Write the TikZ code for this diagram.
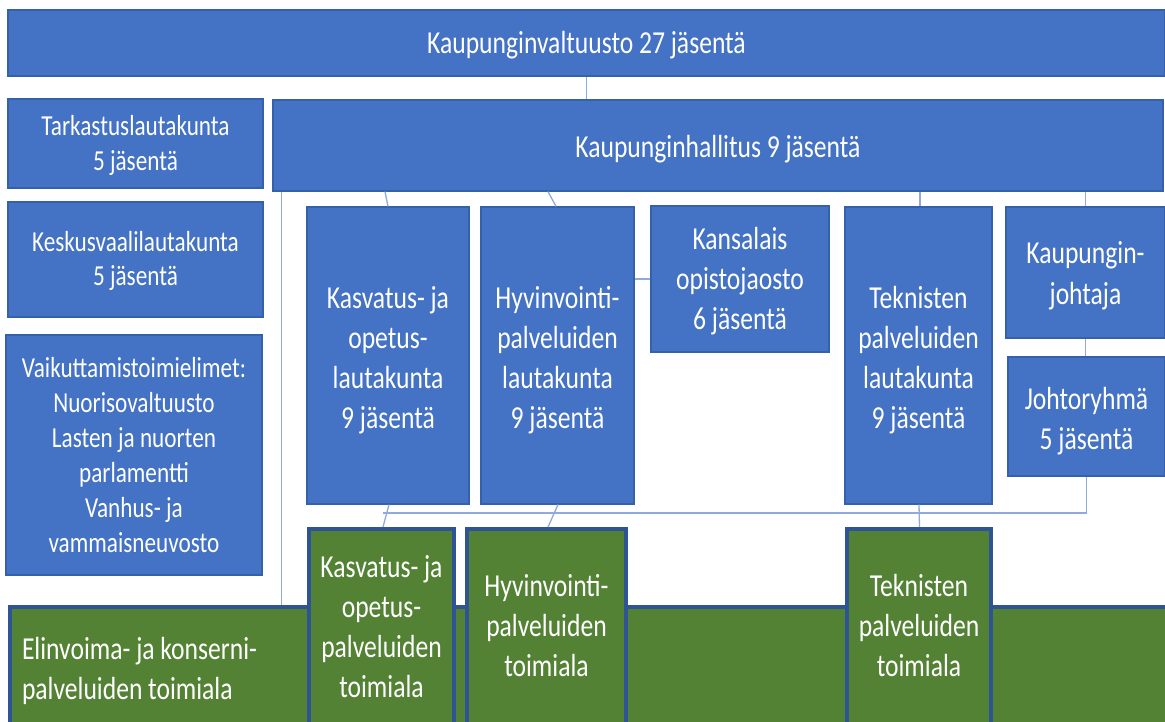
\documentclass[tikz,border=0pt]{standalone}
\usepackage{fontspec}
\setmainfont{Carlito}[FakeStretch=0.8]
\definecolor{cblue}{HTML}{4472C4}
\definecolor{cblueb}{HTML}{3560AA}
\definecolor{cgreen}{HTML}{548235}
\definecolor{cgreenb}{HTML}{2F5496}
\definecolor{cline}{HTML}{8FAADC}
\newcommand{\txl}[2][5pt]{\raisebox{-#1}[\height][\depth]{\begin{tabular}{@{}c@{}}#2\end{tabular}}}
\tikzset{
  bb/.style={fill=cblue, draw=cblueb, line width=1.2pt, text=white, align=center, inner sep=0pt, font=\fontsize{32}{40}\selectfont},
  lb/.style={bb, font=\fontsize{29}{35}\selectfont},
  gb/.style={fill=cgreen, draw=cgreenb, line width=4pt, text=white, align=center, inner sep=0pt, font=\fontsize{32}{40}\selectfont},
  conn/.style={draw=cline, line width=1.3pt},
}
\begin{document}
\begin{tikzpicture}[x=1pt,y=-1pt]
\useasboundingbox (0,0) rectangle (1165,722);
\clip (0,0) rectangle (1165,722);
\fill[white] (0,0) rectangle (1165,722);
% top level
\node[bb, minimum width=1157pt, minimum height=66pt] (kv) at (586.5,43) {\txl[3pt]{Kaupunginvaltuusto 27 jäsentä}};
\node[bb, minimum width=890pt, minimum height=91pt] (kh) at (718,145.5) {\txl[4pt]{Kaupunginhallitus 9 jäsentä}};
% left column
\node[lb, minimum width=255pt, minimum height=89pt] (tark) at (135.5,143.5) {\txl[2.5pt]{Tarkastuslautakunta\\5 jäsentä}};
\node[lb, minimum width=255pt, minimum height=115pt] (kesk) at (135.5,259.5) {\txl[2pt]{Keskusvaalilautakunta\\5 jäsentä}};
\node[lb, minimum width=256pt, minimum height=240pt] (vaik) at (134,455) {Vaikuttamistoimielimet:\\Nuorisovaltuusto\\Lasten ja nuorten\\parlamentti\\Vanhus- ja\\vammaisneuvosto};
% boards
\node[bb, minimum width=162pt, minimum height=297pt] (kol) at (388,355.5) {\txl{Kasvatus- ja\\opetus-\\lautakunta\\9 jäsentä}};
\node[bb, minimum width=153pt, minimum height=297pt] (hpl) at (557.5,355.5) {\txl{Hyvinvointi-\\palveluiden\\lautakunta\\9 jäsentä}};
\node[bb, minimum width=178pt, minimum height=146pt] (kop) at (740,279) {\txl[3pt]{Kansalais\\opistojaosto\\6 jäsentä}};
\node[bb, minimum width=147pt, minimum height=297pt] (tpl) at (918.5,355.5) {\txl{Teknisten\\palveluiden\\lautakunta\\9 jäsentä}};
\node[bb, minimum width=159pt, minimum height=131pt] (kj) at (1085.5,272.5) {\txl[3.5pt]{Kaupungin-\\johtaja}};
\node[bb, minimum width=157pt, minimum height=119pt] (jr) at (1086.5,416.5) {\txl{Johtoryhmä\\5 jäsentä}};
% green
\node[gb, minimum width=1165pt, minimum height=128pt] (elin) at (592.5,671) {\makebox[1141pt][l]{\begin{tabular}{@{}l@{}}Elinvoima- ja konserni-\\palveluiden toimiala\end{tabular}}};
\node[gb, minimum width=145pt, minimum height=206pt] (kt) at (381.5,632) {\txl[-3pt]{Kasvatus- ja\\opetus-\\palveluiden\\toimiala}};
\node[gb, minimum width=159pt, minimum height=206pt] (ht) at (546.5,632) {\txl[-4pt]{Hyvinvointi-\\palveluiden\\toimiala}};
\node[gb, minimum width=144pt, minimum height=206pt] (tt) at (919,632) {\txl[-4pt]{Teknisten\\palveluiden\\toimiala}};
% connectors
\coordinate (busy) at (0,513);
\draw[conn] (kv.south) -- (kh.north -| kv.south);
\draw[conn] ([xshift=9pt]kh.south west) -- ([xshift=9pt]kh.south west |- elin.north);
\draw[conn] ([xshift=-3pt]kol.north |- kh.south) -- (kol.north);
\draw[conn] ([xshift=-9.5pt]hpl.north |- kh.south) -- ([xshift=-1.5pt]hpl.north);
\draw[conn] (hpl.east |- kop.west) -- (kop.west);
\draw[conn] ([xshift=1.5pt]tpl.north |- kh.south) -- ([xshift=1.5pt]tpl.north);
\draw[conn] (kj.north |- kh.south) -- (kj.north);
\draw[conn] (kj.south) -- (kj.south |- jr.north);
\draw[conn] (jr.south) -- (jr.south |- busy) -- ([xshift=-5pt]kol.south |- busy);
\draw[conn] ([xshift=1pt]kol.south) -- ([xshift=1.5pt]kt.north);
\draw[conn] ([xshift=0.5pt]hpl.south) -- ([xshift=1.5pt]ht.north);
\draw[conn] ([xshift=0.5pt]tpl.south) -- ([xshift=0.5pt]tt.north);
\end{tikzpicture}
\end{document}
